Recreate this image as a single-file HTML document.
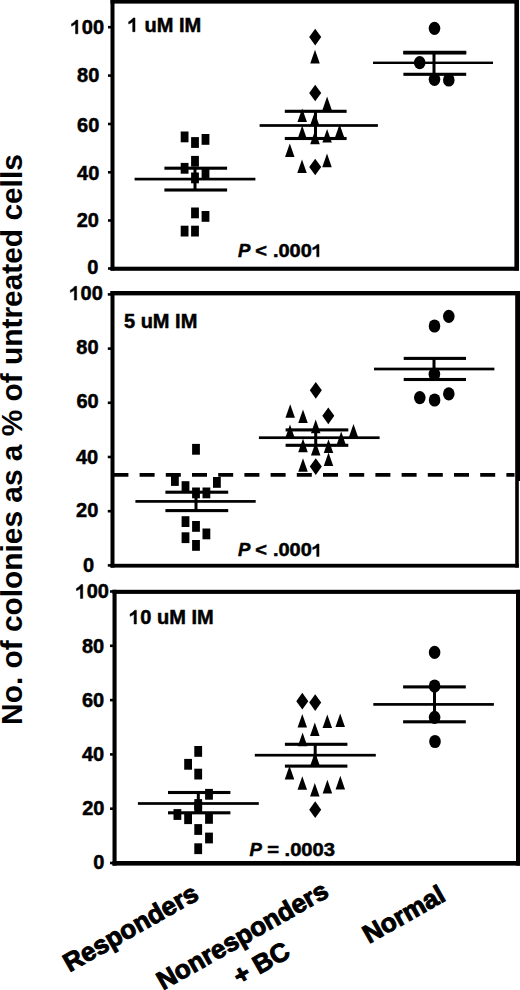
<!DOCTYPE html>
<html><head><meta charset="utf-8"><style>
html,body{margin:0;padding:0;background:#fff;}
svg{display:block;}
text{font-family:"Liberation Sans",sans-serif;font-weight:bold;fill:#000;white-space:pre;}
.h{stroke:#000;stroke-width:0.5px;}
.o{stroke:#000;stroke-width:0.5px;vector-effect:non-scaling-stroke;}
</style></head><body>
<svg width="520" height="990" viewBox="0 0 520 990" xml:space="preserve">
<rect width="520" height="990" fill="#fff"/>
<g fill="#000">
<rect x="110.5" y="0" width="408.50" height="3.60"/>
<rect x="110.5" y="266.7" width="408.50" height="4.10"/>
<rect x="110.5" y="0" width="4.00" height="270.40"/>
<rect x="514.4" y="0" width="4.60" height="270.40"/>
<rect x="108" y="25.90" width="4.00" height="2.6"/>
<rect x="108" y="74.30" width="4.00" height="2.6"/>
<rect x="108" y="122.70" width="4.00" height="2.6"/>
<rect x="108" y="171.00" width="4.00" height="2.6"/>
<rect x="108" y="219.20" width="4.00" height="2.6"/>
<rect x="108" y="267.20" width="4.00" height="2.6"/>
<rect x="180.70" y="131.50" width="7.8" height="10.8"/>
<rect x="191.10" y="137.10" width="7.8" height="10.8"/>
<rect x="201.60" y="134.00" width="7.8" height="10.8"/>
<rect x="191.10" y="155.90" width="7.8" height="10.8"/>
<rect x="180.70" y="162.90" width="7.8" height="10.8"/>
<rect x="201.60" y="168.20" width="7.8" height="10.8"/>
<rect x="191.10" y="172.50" width="7.8" height="10.8"/>
<rect x="191.10" y="207.50" width="7.8" height="10.8"/>
<rect x="201.60" y="211.00" width="7.8" height="10.8"/>
<rect x="180.70" y="225.70" width="7.8" height="10.8"/>
<rect x="191.10" y="225.70" width="7.8" height="10.8"/>
<rect x="134.6" y="177.75" width="120.80" height="2.7"/>
<rect x="164.4" y="166.65" width="62.70" height="3.1"/>
<rect x="164.4" y="188.45" width="62.70" height="3.1"/>
<rect x="193.50" y="168.2" width="3" height="21.80"/>
<path d="M315.20 28.75L321.20 37.10L315.20 45.45L309.20 37.10Z"/>
<path d="M315.20 84.65L321.20 93.00L315.20 101.35L309.20 93.00Z"/>
<path d="M315.20 158.65L321.20 167.00L315.20 175.35L309.20 167.00Z"/>
<path d="M315.00 49.80L319.75 63.40L310.25 63.40Z"/>
<path d="M327.10 96.60L331.85 110.20L322.35 110.20Z"/>
<path d="M302.20 108.50L306.95 122.10L297.45 122.10Z"/>
<path d="M314.70 112.20L319.45 125.80L309.95 125.80Z"/>
<path d="M302.20 125.60L306.95 139.20L297.45 139.20Z"/>
<path d="M339.60 124.20L344.35 137.80L334.85 137.80Z"/>
<path d="M327.10 129.00L331.85 142.60L322.35 142.60Z"/>
<path d="M315.00 130.60L319.75 144.20L310.25 144.20Z"/>
<path d="M289.80 143.40L294.55 157.00L285.05 157.00Z"/>
<path d="M327.00 153.60L331.75 167.20L322.25 167.20Z"/>
<path d="M302.00 159.40L306.75 173.00L297.25 173.00Z"/>
<rect x="259.6" y="124.15" width="118.30" height="2.7"/>
<rect x="284.8" y="109.75" width="61.80" height="3.1"/>
<rect x="284.8" y="136.95" width="61.80" height="3.1"/>
<rect x="314.00" y="111.3" width="3" height="27.20"/>
<ellipse cx="434.5" cy="28.3" rx="5.8" ry="6.6"/>
<ellipse cx="419.7" cy="62.7" rx="5.8" ry="6.6"/>
<ellipse cx="434.5" cy="79.3" rx="5.8" ry="6.6"/>
<ellipse cx="448.8" cy="80" rx="5.8" ry="6.6"/>
<rect x="373" y="61.60" width="120.00" height="2.4"/>
<rect x="403.4" y="51.05" width="62.80" height="3.1"/>
<rect x="403.4" y="72.75" width="62.80" height="3.1"/>
<rect x="432.50" y="52.6" width="3" height="21.70"/>
<rect x="403.4" y="50.75" width="62.80" height="3.7"/>
<rect x="110.5" y="291" width="409.50" height="4.40"/>
<rect x="110.5" y="563.8" width="408.30" height="3.80"/>
<rect x="110.5" y="291" width="4.00" height="276.60"/>
<rect x="515.2" y="291" width="4.80" height="190.00"/>
<rect x="515.2" y="481" width="3.60" height="86.60"/>
<rect x="107.8" y="293.10" width="3.20" height="2.6"/>
<rect x="107.8" y="347.30" width="3.20" height="2.6"/>
<rect x="107.8" y="401.50" width="3.20" height="2.6"/>
<rect x="107.8" y="455.70" width="3.20" height="2.6"/>
<rect x="107.8" y="509.90" width="3.20" height="2.6"/>
<rect x="107.8" y="564.10" width="3.20" height="2.6"/>
<rect x="192.10" y="443.90" width="7.8" height="10.8"/>
<rect x="171.00" y="475.10" width="7.8" height="10.8"/>
<rect x="181.60" y="481.20" width="7.8" height="10.8"/>
<rect x="213.00" y="477.00" width="7.8" height="10.8"/>
<rect x="192.10" y="487.50" width="7.8" height="10.8"/>
<rect x="202.50" y="487.50" width="7.8" height="10.8"/>
<rect x="181.60" y="516.20" width="7.8" height="10.8"/>
<rect x="192.10" y="521.00" width="7.8" height="10.8"/>
<rect x="202.50" y="528.50" width="7.8" height="10.8"/>
<rect x="181.60" y="532.30" width="7.8" height="10.8"/>
<rect x="192.10" y="540.00" width="7.8" height="10.8"/>
<rect x="135.4" y="500.05" width="120.30" height="2.7"/>
<rect x="165.4" y="490.65" width="62.80" height="3.1"/>
<rect x="165.4" y="509.05" width="62.80" height="3.1"/>
<rect x="194.50" y="492.2" width="3" height="18.40"/>
<path d="M315.80 381.95L321.80 390.30L315.80 398.65L309.80 390.30Z"/>
<path d="M328.30 407.45L334.30 415.80L328.30 424.15L322.30 415.80Z"/>
<path d="M315.80 458.25L321.80 466.60L315.80 474.95L309.80 466.60Z"/>
<path d="M290.20 404.20L294.95 417.80L285.45 417.80Z"/>
<path d="M303.00 409.40L307.75 423.00L298.25 423.00Z"/>
<path d="M315.70 419.60L320.45 433.20L310.95 433.20Z"/>
<path d="M290.00 424.50L294.75 438.10L285.25 438.10Z"/>
<path d="M353.50 423.90L358.25 437.50L348.75 437.50Z"/>
<path d="M341.20 431.60L345.95 445.20L336.45 445.20Z"/>
<path d="M303.00 438.60L307.75 452.20L298.25 452.20Z"/>
<path d="M315.70 442.00L320.45 455.60L310.95 455.60Z"/>
<path d="M328.50 439.30L333.25 452.90L323.75 452.90Z"/>
<path d="M328.50 452.50L333.25 466.10L323.75 466.10Z"/>
<path d="M303.00 458.20L307.75 471.80L298.25 471.80Z"/>
<rect x="258.9" y="436.35" width="120.70" height="2.7"/>
<rect x="285.6" y="428.35" width="62.70" height="3.1"/>
<rect x="285.6" y="443.75" width="62.70" height="3.1"/>
<rect x="314.20" y="429.9" width="3" height="15.40"/>
<ellipse cx="434.5" cy="326" rx="5.8" ry="6.6"/>
<ellipse cx="448.8" cy="316.3" rx="5.8" ry="6.6"/>
<ellipse cx="434.4" cy="374.2" rx="5.8" ry="6.6"/>
<ellipse cx="419.8" cy="397.6" rx="5.8" ry="6.6"/>
<ellipse cx="434.6" cy="400" rx="5.8" ry="6.6"/>
<ellipse cx="448.8" cy="393.8" rx="5.8" ry="6.6"/>
<rect x="374" y="367.65" width="120.40" height="2.7"/>
<rect x="403.7" y="356.85" width="62.30" height="3.1"/>
<rect x="403.7" y="377.95" width="62.30" height="3.1"/>
<rect x="432.50" y="358.4" width="3" height="21.10"/>
<rect x="112.5" y="589.8" width="407.50" height="4.10"/>
<rect x="112.5" y="861" width="407.50" height="4.60"/>
<rect x="112.5" y="589.8" width="4.10" height="275.80"/>
<rect x="516" y="589.8" width="4.00" height="275.80"/>
<rect x="110" y="590.20" width="3.00" height="2.6"/>
<rect x="110" y="644.50" width="3.00" height="2.6"/>
<rect x="110" y="698.80" width="3.00" height="2.6"/>
<rect x="110" y="753.10" width="3.00" height="2.6"/>
<rect x="110" y="807.40" width="3.00" height="2.6"/>
<rect x="110" y="861.70" width="3.00" height="2.6"/>
<rect x="194.30" y="746.00" width="7.8" height="10.8"/>
<rect x="184.20" y="758.90" width="7.8" height="10.8"/>
<rect x="194.30" y="768.70" width="7.8" height="10.8"/>
<rect x="205.10" y="788.90" width="7.8" height="10.8"/>
<rect x="194.30" y="799.10" width="7.8" height="10.8"/>
<rect x="194.30" y="801.80" width="7.8" height="10.8"/>
<rect x="173.50" y="809.10" width="7.8" height="10.8"/>
<rect x="184.20" y="813.30" width="7.8" height="10.8"/>
<rect x="205.10" y="813.00" width="7.8" height="10.8"/>
<rect x="194.30" y="824.10" width="7.8" height="10.8"/>
<rect x="205.10" y="832.60" width="7.8" height="10.8"/>
<rect x="194.30" y="843.30" width="7.8" height="10.8"/>
<rect x="137.9" y="802.15" width="120.90" height="2.7"/>
<rect x="168" y="790.95" width="62.40" height="3.1"/>
<rect x="168" y="811.25" width="62.40" height="3.1"/>
<rect x="196.80" y="792.5" width="3" height="20.30"/>
<path d="M302.30 692.85L308.30 701.20L302.30 709.55L296.30 701.20Z"/>
<path d="M315.20 694.25L321.20 702.60L315.20 710.95L309.20 702.60Z"/>
<path d="M315.20 801.35L321.20 809.70L315.20 818.05L309.20 809.70Z"/>
<path d="M302.30 714.00L307.05 727.60L297.55 727.60Z"/>
<path d="M327.30 714.40L332.05 728.00L322.55 728.00Z"/>
<path d="M340.20 713.50L344.95 727.10L335.45 727.10Z"/>
<path d="M314.80 722.50L319.55 736.10L310.05 736.10Z"/>
<path d="M302.60 732.60L307.35 746.20L297.85 746.20Z"/>
<path d="M315.00 752.00L319.75 765.60L310.25 765.60Z"/>
<path d="M289.50 765.80L294.25 779.40L284.75 779.40Z"/>
<path d="M302.30 776.20L307.05 789.80L297.55 789.80Z"/>
<path d="M340.30 775.80L345.05 789.40L335.55 789.40Z"/>
<path d="M327.40 779.80L332.15 793.40L322.65 793.40Z"/>
<path d="M314.80 783.00L319.55 796.60L310.05 796.60Z"/>
<rect x="254.8" y="753.85" width="121.00" height="2.7"/>
<rect x="284.9" y="742.75" width="62.50" height="3.1"/>
<rect x="284.9" y="764.55" width="62.50" height="3.1"/>
<rect x="313.70" y="744.3" width="3" height="21.80"/>
<ellipse cx="434.6" cy="652.4" rx="5.8" ry="6.6"/>
<ellipse cx="434.6" cy="686" rx="5.8" ry="6.6"/>
<ellipse cx="434.6" cy="717.3" rx="5.8" ry="6.6"/>
<ellipse cx="435" cy="741.5" rx="5.8" ry="6.6"/>
<rect x="373.3" y="703.05" width="120.60" height="2.7"/>
<rect x="403.1" y="685.35" width="62.70" height="3.1"/>
<rect x="403.1" y="720.25" width="62.70" height="3.1"/>
<rect x="433.00" y="686.9" width="3" height="34.90"/>
<line x1="113.4" y1="474.8" x2="514.5" y2="474.8" stroke="#000" stroke-width="3.8" stroke-dasharray="15 11.2"/>
</g>
<path class="o" transform="translate(70.65,33.83) scale(20.000,20.000)" d="M0.36,0L0.245,0L0.245,-0.50C0.19,-0.45 0.12,-0.41 0.045,-0.385L0.045,-0.50C0.10,-0.52 0.16,-0.57 0.20,-0.61C0.235,-0.645 0.26,-0.67 0.27,-0.688L0.36,-0.688Z"/>
<text class="h" x="81.77" y="33.83" font-size="20">00</text>
<text class="h" x="77.07" y="82.43" font-size="20">80</text>
<text class="h" x="77.07" y="131.78" font-size="20">60</text>
<text class="h" x="77.07" y="179.98" font-size="20">40</text>
<text class="h" x="76.67" y="226.98" font-size="20">20</text>
<text class="h" x="87.20" y="273.98" font-size="20">0</text>
<path class="o" transform="translate(69.45,300.08) scale(20.000,20.000)" d="M0.36,0L0.245,0L0.245,-0.50C0.19,-0.45 0.12,-0.41 0.045,-0.385L0.045,-0.50C0.10,-0.52 0.16,-0.57 0.20,-0.61C0.235,-0.645 0.26,-0.67 0.27,-0.688L0.36,-0.688Z"/>
<text class="h" x="80.57" y="300.08" font-size="20">00</text>
<text class="h" x="76.27" y="354.48" font-size="20">80</text>
<text class="h" x="76.47" y="408.28" font-size="20">60</text>
<text class="h" x="75.97" y="463.78" font-size="20">40</text>
<text class="h" x="76.07" y="517.18" font-size="20">20</text>
<text class="h" x="82.90" y="571.58" font-size="20">0</text>
<path class="o" transform="translate(75.55,598.38) scale(20.000,20.000)" d="M0.36,0L0.245,0L0.245,-0.50C0.19,-0.45 0.12,-0.41 0.045,-0.385L0.045,-0.50C0.10,-0.52 0.16,-0.57 0.20,-0.61C0.235,-0.645 0.26,-0.67 0.27,-0.688L0.36,-0.688Z"/>
<text class="h" x="86.67" y="598.38" font-size="20">00</text>
<text class="h" x="81.97" y="652.78" font-size="20">80</text>
<text class="h" x="81.97" y="706.98" font-size="20">60</text>
<text class="h" x="81.97" y="761.18" font-size="20">40</text>
<text class="h" x="82.17" y="814.58" font-size="20">20</text>
<text class="h" x="93.30" y="868.88" font-size="20">0</text>
<path class="o" transform="translate(127.80,31.70) scale(20.000,20.000)" d="M0.36,0L0.245,0L0.245,-0.50C0.19,-0.45 0.12,-0.41 0.045,-0.385L0.045,-0.50C0.10,-0.52 0.16,-0.57 0.20,-0.61C0.235,-0.645 0.26,-0.67 0.27,-0.688L0.36,-0.688Z"/>
<text class="h" x="138.92" y="31.70" font-size="20"> uM IM</text>
<text class="h" x="123.98" y="327.50" font-size="20">5 uM IM</text>
<path class="o" transform="translate(129.20,624.00) scale(20.000,20.000)" d="M0.36,0L0.245,0L0.245,-0.50C0.19,-0.45 0.12,-0.41 0.045,-0.385L0.045,-0.50C0.10,-0.52 0.16,-0.57 0.20,-0.61C0.235,-0.645 0.26,-0.67 0.27,-0.688L0.36,-0.688Z"/>
<text class="h" x="140.32" y="624.00" font-size="20">0 uM IM</text>
<text class="h" transform="translate(237.93,256.80) scale(1.03,1.0)" font-size="18" font-style="italic">P</text>
<text class="h" transform="translate(255.16,256.80) scale(1.11,1.0)" font-size="18"><</text>
<text class="h" transform="translate(272.94,256.80) scale(1.11,1.0)" font-size="18">.000</text>
<path class="o" transform="translate(311.83,256.80) scale(19.980,18.000)" d="M0.36,0L0.245,0L0.245,-0.50C0.19,-0.45 0.12,-0.41 0.045,-0.385L0.045,-0.50C0.10,-0.52 0.16,-0.57 0.20,-0.61C0.235,-0.645 0.26,-0.67 0.27,-0.688L0.36,-0.688Z"/>
<text class="h" transform="translate(237.93,556.40) scale(1.03,1.0)" font-size="18" font-style="italic">P</text>
<text class="h" transform="translate(255.16,556.40) scale(1.11,1.0)" font-size="18"><</text>
<text class="h" transform="translate(272.94,556.40) scale(1.11,1.0)" font-size="18">.000</text>
<path class="o" transform="translate(311.83,556.40) scale(19.980,18.000)" d="M0.36,0L0.245,0L0.245,-0.50C0.19,-0.45 0.12,-0.41 0.045,-0.385L0.045,-0.50C0.10,-0.52 0.16,-0.57 0.20,-0.61C0.235,-0.645 0.26,-0.67 0.27,-0.688L0.36,-0.688Z"/>
<text class="h" transform="translate(249.48,856.00) scale(1.03,1.0)" font-size="18" font-style="italic">P</text>
<text class="h" transform="translate(267.28,856.00) scale(1.12,1.0)" font-size="18">=</text>
<text class="h" transform="translate(284.54,856.00) scale(1.12,1.0)" font-size="18">.0003</text>
<text transform="translate(21.6,724.9) rotate(-90) scale(0.9955,1)" font-size="30">No. of colonies as a % of untreated cells</text>
<text transform="translate(69.5,972.5) rotate(-29.5)" font-size="26" stroke="#000" stroke-width="1.0">Responders</text>
<text transform="translate(163,990.5) rotate(-29.5)" font-size="26" stroke="#000" stroke-width="1.0">Nonresponders</text>
<text transform="translate(239.6,985.8) rotate(-29.5)" font-size="26" stroke="#000" stroke-width="1.0">+ BC</text>
<text transform="translate(369,944) rotate(-29.5)" font-size="26" stroke="#000" stroke-width="1.0">Normal</text>
</svg>
</body></html>
